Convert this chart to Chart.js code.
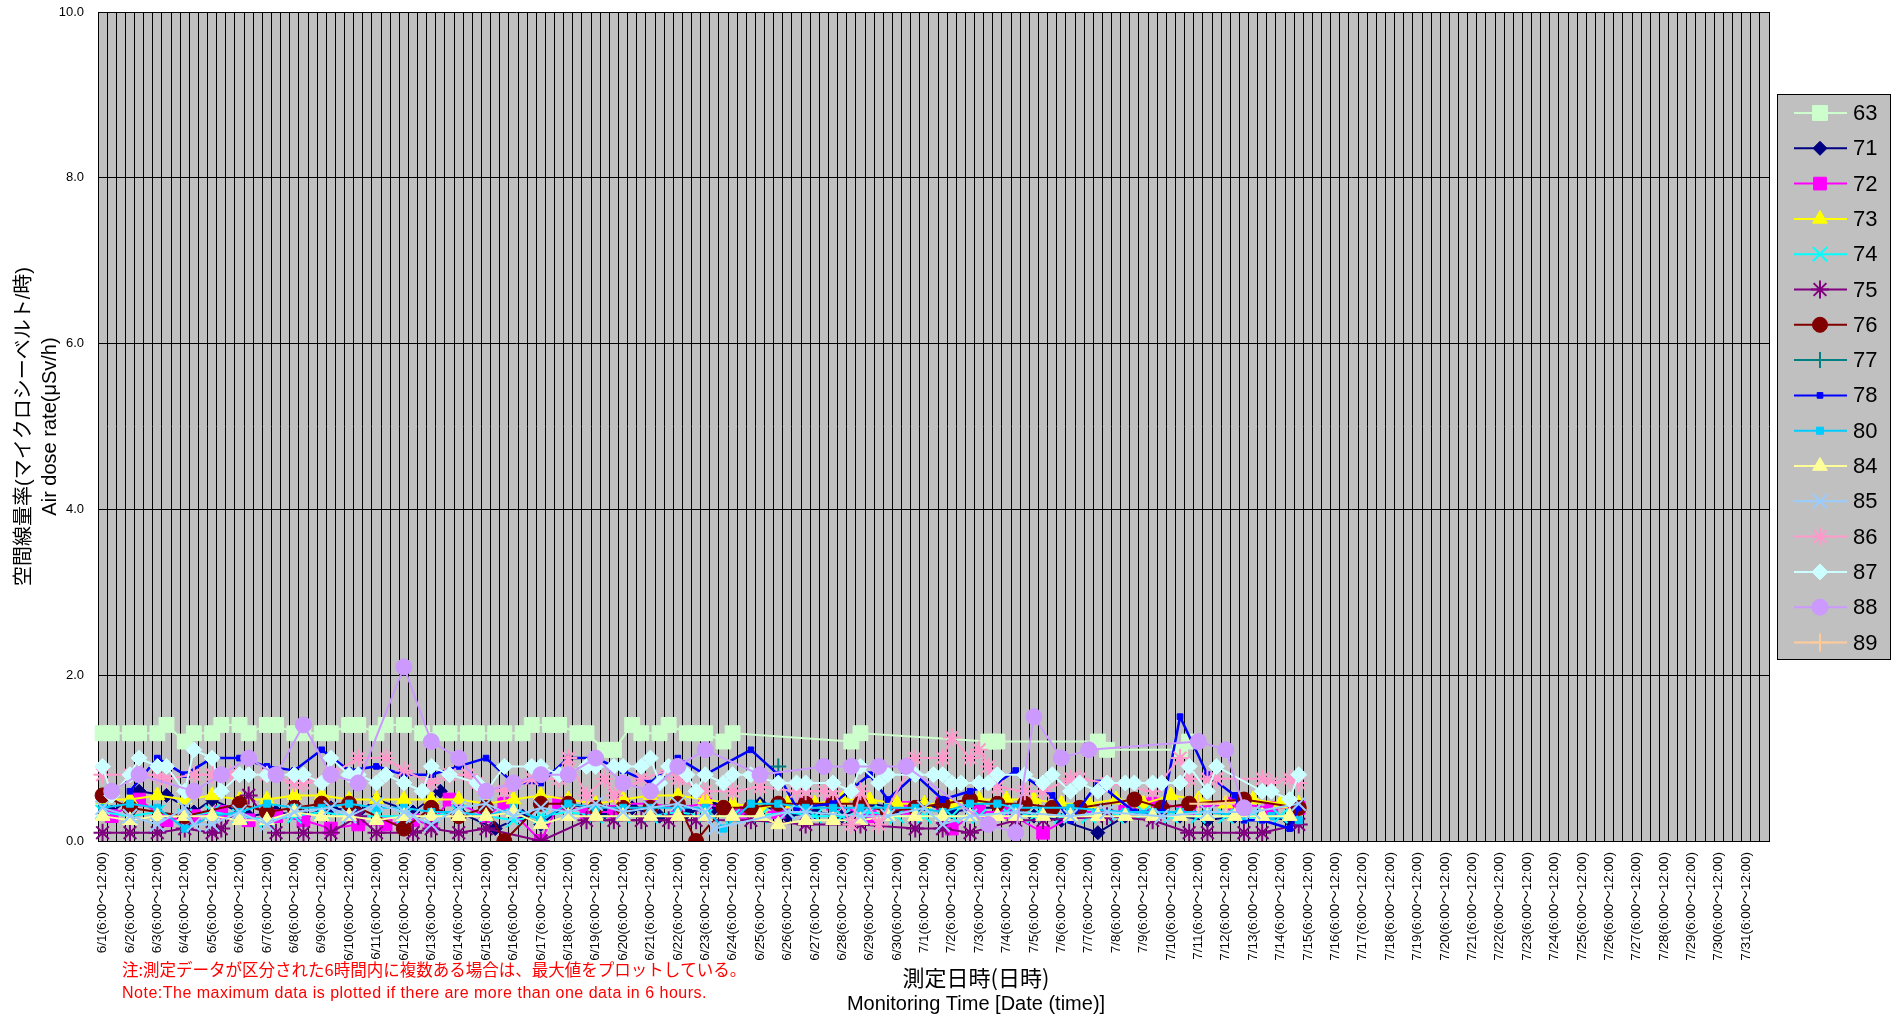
<!DOCTYPE html>
<html lang="ja">
<head>
<meta charset="utf-8">
<title>空間線量率</title>
<script src="https://cdn.jsdelivr.net/npm/chart.js@4.4.1/dist/chart.umd.min.js"></script>
<style>
  html, body { margin: 0; padding: 0; background: #fff; }
  #wrap { position: relative; width: 1899px; height: 1019px; }
</style>
</head>
<body>
<div id="wrap"><canvas id="doseChart"></canvas></div>
<script>
// categories: three 6-hour slots per day, 6/1 - 7/31
const months = [[6, 30], [7, 31]];
const slots = ['6:00～12:00', '12:00～18:00', '18:00～24:00'];
const yTicks = [0, 2, 4, 6, 8, 10];
const stations = ['63', '71', '72', '73', '74', '75', '76', '77', '78', '80', '84', '85', '86', '87', '88', '89'];

// readings as [slot index, μSv/h]
const s63 = [[0,1.3],[1,1.3],[3,1.3],[4,1.3],[6,1.3],[7,1.4],[9,1.2],[10,1.3],[12,1.3],[13,1.4],[15,1.4],[16,1.3],[18,1.4],[19,1.4],[21,1.3],[22,1.3],[24,1.3],[25,1.3],[27,1.4],[28,1.4],[30,1.3],[31,1.4],[33,1.4],[35,1.3],[37,1.3],[38,1.3],[40,1.3],[41,1.3],[43,1.3],[44,1.3],[46,1.3],[47,1.4],[49,1.4],[50,1.4],[52,1.3],[53,1.3],[55,1.1],[56,1.1],[58,1.4],[59,1.3],[61,1.3],[62,1.4],[64,1.3],[65,1.3],[66,1.3],[68,1.2],[69,1.3],[82,1.2],[83,1.3],[97,1.2],[98,1.2],[109,1.2],[110,1.1],[118,1.1],[119,1.2]];
const s71 = [[1,0.35],[4,0.6],[7,0.55],[10,0.35],[12,0.5],[16,0.3],[19,0.35],[22,0.3],[25,0.4],[28,0.35],[30,0.5],[34,0.35],[37,0.6],[39,0.35],[43,0.15],[46,0.3],[48,0.2],[51,0.45],[55,0.35],[58,0.4],[61,0.3],[64,0.35],[67,0.4],[69,0.4],[72,0.45],[75,0.3],[78,0.35],[81,0.3],[84,0.45],[87,0.4],[90,0.45],[93,0.35],[96,0.4],[99,0.4],[102,0.3],[105,0.25],[109,0.1],[112,0.3],[115,0.3],[118,0.3],[121,0.25],[124,0.3],[127,0.3],[130,0.25]];
const s72 = [[1,0.3],[4,0.5],[7,0.25],[10,0.3],[13,0.35],[16,0.25],[19,0.3],[22,0.25],[25,0.15],[28,0.2],[31,0.2],[34,0.25],[36,0.2],[38,0.5],[42,0.3],[44,0.45],[48,0.0],[50,0.45],[53,0.35],[56,0.35],[57,0.45],[60,0.45],[63,0.4],[66,0.45],[70,0.35],[74,0.35],[77,0.45],[80,0.45],[84,0.3],[88,0.4],[92,0.45],[93,0.15],[96,0.35],[99,0.35],[103,0.1],[107,0.35],[112,0.35],[115,0.45],[119,0.4],[124,0.45],[128,0.4],[131,0.4]];
const s73 = [[0,0.5],[3,0.5],[6,0.55],[9,0.5],[12,0.55],[15,0.5],[18,0.5],[21,0.55],[24,0.55],[27,0.5],[30,0.5],[33,0.5],[36,0.5],[39,0.5],[42,0.45],[45,0.5],[48,0.55],[51,0.5],[54,0.45],[57,0.5],[60,0.55],[63,0.55],[66,0.5],[69,0.45],[72,0.4],[75,0.45],[78,0.45],[81,0.5],[84,0.5],[87,0.45],[90,0.45],[93,0.45],[96,0.5],[99,0.5],[102,0.5],[105,0.45],[108,0.45],[111,0.5],[114,0.45],[117,0.55],[120,0.5],[123,0.45],[126,0.5],[129,0.45],[131,0.45]];
const s74 = [[0,0.35],[3,0.3],[6,0.35],[9,0.3],[12,0.35],[15,0.3],[18,0.25],[21,0.3],[24,0.35],[27,0.3],[30,0.3],[33,0.3],[36,0.3],[39,0.35],[42,0.3],[45,0.25],[48,0.3],[51,0.35],[54,0.3],[57,0.3],[60,0.3],[63,0.35],[66,0.3],[69,0.3],[72,0.3],[75,0.35],[78,0.3],[81,0.3],[84,0.35],[87,0.3],[90,0.3],[93,0.3],[96,0.3],[99,0.35],[102,0.3],[105,0.3],[108,0.3],[111,0.3],[114,0.35],[117,0.3],[120,0.3],[123,0.3],[126,0.3],[129,0.3]];
const s75 = [[0,0.1],[3,0.1],[6,0.1],[9,0.15],[12,0.1],[13,0.15],[16,0.55],[19,0.1],[22,0.1],[25,0.1],[28,0.3],[30,0.1],[34,0.1],[36,0.15],[39,0.1],[42,0.15],[48,0.0],[53,0.25],[56,0.25],[59,0.25],[62,0.25],[65,0.25],[71,0.25],[77,0.2],[83,0.2],[89,0.15],[92,0.15],[95,0.1],[100,0.25],[103,0.25],[110,0.3],[115,0.25],[119,0.1],[121,0.1],[125,0.1],[127,0.1],[131,0.2]];
const s76 = [[0,0.55],[3,0.4],[9,0.3],[15,0.45],[18,0.35],[21,0.4],[24,0.45],[27,0.45],[33,0.15],[36,0.4],[39,0.3],[42,0.4],[44,0.0],[48,0.45],[51,0.45],[54,0.4],[57,0.4],[60,0.4],[63,0.45],[65,0.0],[68,0.4],[71,0.4],[74,0.45],[77,0.45],[80,0.45],[83,0.45],[86,0.35],[89,0.4],[92,0.45],[95,0.5],[98,0.45],[101,0.45],[104,0.4],[107,0.4],[113,0.5],[116,0.4],[119,0.45],[125,0.5],[131,0.4]];
const s77 = [[74,0.9]];
const s78 = [[3,0.6],[6,1.0],[9,0.8],[12,1.0],[15,1.0],[18,0.9],[21,0.85],[24,1.1],[27,0.85],[30,0.9],[33,0.8],[36,0.8],[39,0.9],[42,1.0],[45,0.7],[48,0.7],[51,1.0],[54,1.0],[57,0.85],[60,0.7],[63,1.0],[66,0.8],[71,1.1],[74,0.8],[76,0.4],[80,0.45],[84,0.8],[86,0.5],[89,0.8],[92,0.5],[95,0.6],[98,0.7],[100,0.85],[104,0.55],[106,0.25],[109,0.7],[113,0.35],[116,0.35],[118,1.5],[121,0.8],[124,0.55],[125,0.25],[127,0.25],[130,0.15],[131,0.4]];
const s80 = [[0,0.4],[3,0.45],[6,0.4],[9,0.15],[12,0.3],[15,0.35],[18,0.45],[21,0.4],[24,0.4],[27,0.45],[30,0.4],[33,0.4],[36,0.35],[39,0.35],[42,0.3],[45,0.4],[48,0.25],[51,0.45],[54,0.4],[57,0.4],[60,0.4],[63,0.4],[66,0.4],[68,0.15],[71,0.45],[74,0.45],[77,0.4],[80,0.4],[83,0.4],[86,0.4],[89,0.4],[92,0.35],[95,0.45],[98,0.45],[100,0.4],[106,0.4],[112,0.35],[115,0.35],[118,0.35],[121,0.35],[125,0.3],[128,0.3],[131,0.25]];
const s84 = [[0,0.3],[3,0.25],[6,0.3],[9,0.3],[12,0.3],[15,0.25],[18,0.25],[21,0.35],[24,0.3],[27,0.3],[30,0.25],[33,0.3],[36,0.3],[39,0.3],[42,0.3],[45,0.35],[48,0.2],[51,0.3],[54,0.3],[57,0.3],[60,0.3],[63,0.3],[66,0.3],[69,0.3],[72,0.3],[74,0.2],[77,0.25],[80,0.25],[83,0.25],[86,0.3],[89,0.3],[92,0.3],[95,0.3],[98,0.3],[100,0.3],[103,0.3],[106,0.3],[109,0.3],[112,0.3],[115,0.3],[118,0.3],[121,0.3],[124,0.3],[127,0.3],[130,0.3]];
const s85 = [[0,0.4],[3,0.3],[6,0.2],[9,0.4],[10,0.2],[12,0.2],[15,0.35],[18,0.2],[21,0.35],[25,0.4],[27,0.3],[30,0.45],[33,0.35],[34,0.3],[36,0.2],[39,0.4],[42,0.45],[45,0.3],[48,0.4],[51,0.35],[54,0.45],[57,0.35],[60,0.4],[63,0.45],[66,0.35],[67,0.15],[75,0.35],[77,0.35],[83,0.3],[86,0.3],[90,0.4],[92,0.2],[95,0.3],[100,0.35],[106,0.3],[110,0.35],[116,0.3],[121,0.35],[126,0.35],[131,0.45]];
const s86 = [[0,0.8],[3,0.8],[6,0.8],[7,0.75],[10,0.8],[12,0.8],[14,0.8],[18,0.8],[21,0.7],[22,0.7],[25,0.8],[28,1.0],[31,1.0],[33,0.85],[36,0.7],[38,0.8],[40,0.8],[41,0.7],[44,0.6],[47,0.75],[50,0.75],[51,1.0],[53,0.55],[55,0.75],[56,0.55],[59,0.75],[62,0.85],[63,0.75],[66,0.6],[69,0.6],[72,0.65],[76,0.6],[77,0.6],[79,0.6],[80,0.6],[82,0.2],[83,0.6],[85,0.2],[89,1.0],[92,1.0],[93,1.25],[95,1.0],[96,1.1],[97,0.9],[98,0.65],[101,0.6],[103,0.6],[106,0.75],[107,0.75],[110,0.7],[115,0.6],[118,1.0],[119,0.75],[121,0.75],[122,0.75],[127,0.75],[128,0.7],[130,0.75],[131,0.7]];
const s87 = [[0,0.9],[1,0.55],[3,0.8],[4,1.0],[6,0.9],[7,0.9],[9,0.6],[10,1.1],[12,1.0],[13,0.6],[15,0.8],[16,0.8],[18,0.8],[21,0.8],[22,0.8],[24,0.7],[25,1.0],[27,0.8],[28,0.8],[30,0.7],[31,0.8],[33,0.7],[35,0.6],[36,0.9],[38,0.8],[41,0.7],[42,0.6],[44,0.9],[47,0.9],[48,0.9],[50,0.8],[53,0.9],[54,0.9],[56,0.9],[57,0.9],[59,0.9],[60,1.0],[61,0.7],[62,0.9],[64,0.8],[65,0.6],[66,0.8],[68,0.7],[69,0.8],[71,0.8],[74,0.7],[76,0.7],[77,0.7],[80,0.7],[82,0.6],[83,0.9],[85,0.7],[86,0.8],[89,0.8],[91,0.8],[92,0.8],[93,0.7],[94,0.7],[96,0.7],[97,0.7],[98,0.8],[101,0.8],[103,0.7],[104,0.8],[106,0.6],[107,0.7],[109,0.6],[110,0.7],[112,0.7],[113,0.7],[115,0.7],[116,0.7],[118,0.7],[119,0.9],[121,0.6],[122,0.9],[127,0.6],[128,0.6],[130,0.5],[131,0.8]];
const s88 = [[1,0.6],[4,0.8],[10,0.6],[13,0.8],[16,1.0],[19,0.8],[22,1.4],[25,0.8],[28,0.7],[33,2.1],[36,1.2],[39,1.0],[42,0.6],[45,0.7],[48,0.8],[51,0.8],[54,1.0],[57,0.7],[60,0.6],[63,0.9],[66,1.1],[72,0.8],[79,0.9],[82,0.9],[85,0.9],[88,0.9],[97,0.2],[100,0.1],[102,1.5],[105,1.0],[108,1.1],[120,1.2],[123,1.1],[125,0.4]];
const s89 = [[120,0.45],[123,0.45]];

const seriesData = [s63, s71, s72, s73, s74, s75, s76, s77, s78, s80, s84, s85, s86, s87, s88, s89];
const seriesStyle = [
  { color: '#CCFFCC', point: 'rect', r: 10.5 },
  { color: '#000080', point: 'rectRot', r: 7 },
  { color: '#FF00FF', point: 'rect', r: 9 },
  { color: '#FFFF00', point: 'triangle', r: 8.5 },
  { color: '#00FFFF', point: 'crossRot', r: 10, bw: 2 },
  { color: '#800080', point: 'star', r: 9, bw: 2 },
  { color: '#800000', point: 'circle', r: 7.5 },
  { color: '#008080', point: 'cross', r: 8, bw: 2 },
  { color: '#0000FF', point: 'rect', r: 4, lw: 2.5 },
  { color: '#00CCFF', point: 'rect', r: 5 },
  { color: '#FFFF99', point: 'triangle', r: 8.5 },
  { color: '#99CCFF', point: 'crossRot', r: 10, bw: 2 },
  { color: '#FF99CC', point: 'star', r: 9, bw: 2 },
  { color: '#CCFFFF', point: 'rectRot', r: 8 },
  { color: '#CC99FF', point: 'circle', r: 8 },
  { color: '#FFCC99', point: 'cross', r: 9, bw: 2 },
];

const labels = [];
months.forEach(([m, n]) => {
  for (let d = 1; d <= n; d++) slots.forEach(s => labels.push(`${m}/${d}(${s})`));
});

const datasets = stations.map((name, i) => {
  const st = seriesStyle[i];
  const values = new Array(labels.length).fill(null);
  seriesData[i].forEach(([k, v]) => { values[k] = v; });
  return {
    label: name,
    data: values,
    borderColor: st.color,
    backgroundColor: st.color,
    borderWidth: st.lw || 2,
    pointStyle: st.point,
    pointRadius: st.r,
    pointBorderColor: st.color,
    pointBackgroundColor: st.color,
    pointBorderWidth: st.bw || 1,
    tension: 0,
    spanGaps: true,
    order: -i,
  };
});

const FONT = "'Liberation Sans', 'Noto Sans CJK JP', sans-serif";

const plotBackground = {
  id: 'plotBackground',
  beforeDraw(chart) {
    const { ctx, chartArea: a } = chart;
    ctx.save();
    ctx.fillStyle = '#fff';
    ctx.fillRect(0, 0, chart.width, chart.height);
    ctx.fillStyle = '#C0C0C0';
    ctx.fillRect(a.left, a.top, a.right - a.left, a.bottom - a.top);
    ctx.restore();
  },
};

// boxed legend with line + marker samples, Excel style
const boxLegend = {
  id: 'boxLegend',
  afterDraw(chart) {
    const ctx = chart.ctx;
    ctx.save();
    ctx.fillStyle = '#C0C0C0';
    ctx.fillRect(1777, 94, 113, 565);
    ctx.strokeStyle = '#000';
    ctx.lineWidth = 1;
    ctx.strokeRect(1777.5, 94.5, 113, 565);
    chart.data.datasets.forEach((ds, i) => {
      const y = 113 + i * 35.3;
      ctx.strokeStyle = ds.borderColor;
      ctx.lineWidth = 2;
      ctx.beginPath();
      ctx.moveTo(1794, y);
      ctx.lineTo(1847, y);
      ctx.stroke();
      ctx.fillStyle = ds.pointBackgroundColor;
      ctx.strokeStyle = ds.pointBorderColor;
      ctx.lineWidth = ds.pointBorderWidth;
      Chart.helpers.drawPoint(ctx, { pointStyle: ds.pointStyle, radius: ds.pointRadius, borderWidth: ds.pointBorderWidth, rotation: 0 }, 1820, y);
      ctx.fillStyle = '#000';
      ctx.font = "22px 'Liberation Sans'";
      ctx.textAlign = 'left';
      ctx.textBaseline = 'middle';
      ctx.fillText(ds.label, 1853, y + 1);
    });
    ctx.restore();
  },
};

const notes = {
  id: 'notes',
  afterDraw(chart) {
    const ctx = chart.ctx;
    ctx.save();
    ctx.textBaseline = 'middle';
    ctx.textAlign = 'left';
    ctx.fillStyle = '#FF0000';
    ctx.font = "16.5px 'Noto Sans CJK JP'";
    ctx.fillText('注:測定データが区分された6時間内に複数ある場合は、最大値をプロットしている。', 122, 970);
    ctx.font = "16px 'Liberation Sans'";
    ctx.letterSpacing = '0.5px';
    ctx.fillText('Note:The maximum data is plotted if there are more than one data in 6 hours.', 122, 994);
    ctx.letterSpacing = '0px';
    ctx.fillStyle = '#000';
    ctx.textAlign = 'center';
    ctx.font = "22px 'Noto Sans CJK JP'";
    ctx.fillText('測定日時(日時)', 976, 978);
    ctx.font = "20px 'Liberation Sans'";
    ctx.fillText('Monitoring Time [Date (time)]', 976, 1004);
    ctx.restore();
  },
};

new Chart(document.getElementById('doseChart'), {
  type: 'line',
  data: { labels, datasets },
  plugins: [plotBackground, boxLegend, notes],
  options: {
    responsive: true,
    maintainAspectRatio: false,
    animation: false,
    devicePixelRatio: 1,
    events: [],
    layout: { padding: { top: 11, right: 130, bottom: 0, left: 0 } },
    plugins: { legend: { display: false }, tooltip: { enabled: false } },
    scales: {
      x: {
        type: 'category',
        offset: true,
        grid: { offset: true, color: '#000', lineWidth: 1, drawTicks: false },
        border: { color: '#000' },
        ticks: {
          autoSkip: false,
          minRotation: 90,
          maxRotation: 90,
          padding: 11,
          color: '#000',
          font: { family: FONT, size: 13.5 },
          callback(v, i) { return i % 3 === 0 ? this.getLabelForValue(v) : ''; },
        },
        afterFit(scale) {
          scale.height = 178;
          scale.paddingLeft = 0;
          scale.paddingRight = 0;
        },
      },
      y: {
        min: 0,
        max: 10,
        afterBuildTicks(scale) { scale.ticks = yTicks.map(v => ({ value: v })); },
        ticks: { padding: 14, color: '#000', font: { family: FONT, size: 13 }, callback: v => v.toFixed(1) },
        grid: { color: '#000', drawTicks: false },
        border: { color: '#000' },
        title: {
          display: true,
          text: ['空間線量率(マイクロシーベルト/時)', 'Air dose rate(μSv/h)'],
          color: '#000',
          font: { family: FONT, size: 20, lineHeight: 1.3 },
          padding: { top: 11, bottom: 0 },
        },
        afterFit(scale) {
          scale.width = 98;
          scale.paddingTop = 0;
          scale.paddingBottom = 0;
        },
      },
    },
  },
});
</script>
</body>
</html>
